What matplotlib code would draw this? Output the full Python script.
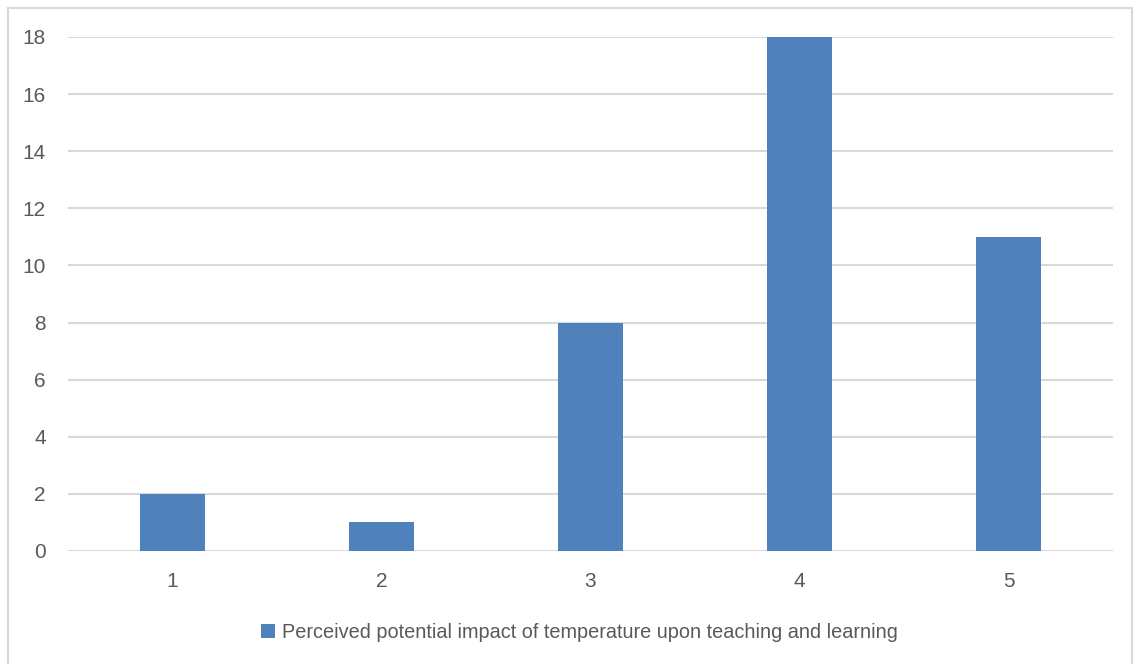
import matplotlib
matplotlib.use("Agg")
import matplotlib.pyplot as plt
from matplotlib.patches import Rectangle
from matplotlib import font_manager

categories = ["1", "2", "3", "4", "5"]
values = [2, 1, 8, 18, 11]
yticks = [0, 2, 4, 6, 8, 10, 12, 14, 16, 18]
series_name = "Perceived potential impact of temperature upon teaching and learning"

bar_color = "#4F81BD"
text_color = "#595959"
grid_color = "#D9D9D9"

names = {f.name for f in font_manager.fontManager.ttflist}
family = "Liberation Sans Narrow" if "Liberation Sans Narrow" in names else "Liberation Sans"
plt.rcParams["font.family"] = [family, "DejaVu Sans"]

fig = plt.figure(figsize=(11.34, 6.64), dpi=100)
ax = fig.add_axes([0.060, 0.1702, 0.9215, 0.7741])

x = list(range(len(categories)))
ax.bar(x, values, width=0.31, color=bar_color, zorder=3, label=series_name)

ax.set_xlim(-0.5, len(categories) - 0.5)
ax.set_ylim(0, 18)
ax.set_yticks(yticks)
ax.set_xticks(x)
ax.set_xticklabels(categories)
ax.tick_params(axis="both", length=0, labelsize=15, colors=text_color)
ax.tick_params(axis="y", pad=16)
ax.tick_params(axis="x", pad=15)
ax.grid(axis="y", color=grid_color, linewidth=1.5, zorder=0)
for s in ax.spines.values():
    s.set_visible(False)

# outer chart border
fig.patches.append(Rectangle((8 / 1134, -0.01), 1124 / 1134, 1 - 8 / 664 + 0.01,
                             transform=fig.transFigure, fill=False,
                             edgecolor=grid_color, linewidth=1.5))

fig.legend(loc="center", bbox_to_anchor=(0.511, 1 - 632 / 664), frameon=False,
           fontsize=14.3, labelcolor=text_color, handlelength=0.7, handleheight=0.7,
           handletextpad=0.4)

fig.savefig("out.png", dpi=100)
